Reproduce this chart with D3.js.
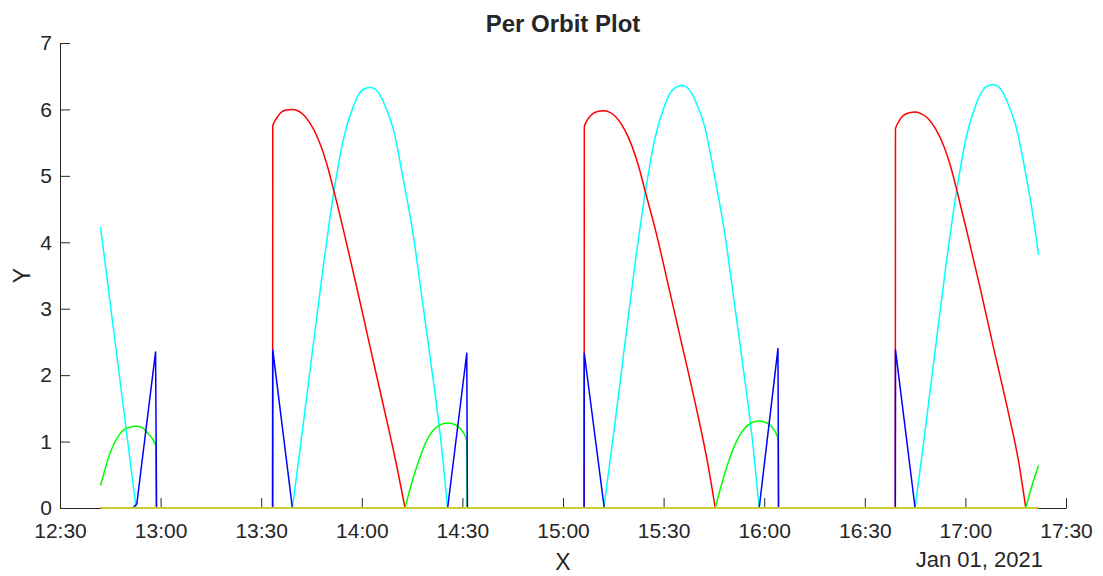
<!DOCTYPE html>
<html>
<head>
<meta charset="utf-8">
<script src="https://cdn.jsdelivr.net/npm/d3@7"></script>
<style>
  body { margin: 0; background: #fff; }
  svg text { font-family: "Liberation Sans", Arial, Helvetica, sans-serif; fill: #262626; }
</style>
</head>
<body>
<svg id="chart" width="1103" height="576"></svg>
<script>
// times are minutes after 12:00 on Jan 01, 2021
const red = [
  [42.1, 0], [93.4, 0], [93.45, 5.75], [94.5, 5.86], [95.6, 5.94], [97.4, 5.99], [99.1, 6.00], [100.9, 5.98],
  [102.6, 5.92], [104.6, 5.79], [106.6, 5.60], [109.5, 5.19], [111.7, 4.77], [114.5, 4.19], [118.5, 3.32],
  [122.4, 2.44], [126.4, 1.55], [130.4, 0.64], [132.9, 0],
  [186.3, 0], [186.35, 5.74], [187.4, 5.85], [188.5, 5.92], [190.3, 5.97], [192.0, 5.98], [193.8, 5.96],
  [195.5, 5.90], [197.5, 5.77], [199.5, 5.58], [202.4, 5.17], [204.6, 4.75], [207.6, 4.18], [211.6, 3.31],
  [215.6, 2.43], [219.6, 1.54], [223.2, 0.66], [225.4, 0],
  [279.1, 0], [279.15, 5.71], [280.2, 5.82], [281.3, 5.90], [283.3, 5.95], [285.2, 5.96], [287.0, 5.93],
  [288.7, 5.87], [290.7, 5.74], [292.7, 5.55], [295.6, 5.14], [297.7, 4.73], [300.5, 4.15], [304.5, 3.29],
  [308.4, 2.41], [312.4, 1.53], [316.0, 0.66], [318.0, 0], [321.8, 0]
];

const cyan = [
  [42.1, 4.23], [52.7, 0], [99.3, 0], [102.6, 1.28], [105.5, 2.45], [108.5, 3.63], [111.7, 4.77], [114.5, 5.55],
  [117.5, 6.05], [119.0, 6.22], [120.4, 6.30], [122.4, 6.33], [123.9, 6.31], [125.4, 6.22], [127.4, 6.00],
  [129.4, 5.70], [132.4, 4.94], [135.4, 4.09], [138.3, 3.03], [141.3, 1.93], [143.8, 0.92], [145.6, 0],
  [192.2, 0], [195.5, 1.28], [198.4, 2.45], [201.4, 3.64], [204.6, 4.77], [207.4, 5.56], [210.4, 6.07],
  [211.9, 6.24], [213.3, 6.32], [215.3, 6.36], [216.8, 6.34], [218.3, 6.25], [220.3, 6.03], [222.3, 5.73],
  [225.3, 4.97], [228.3, 4.11], [231.2, 3.05], [234.2, 1.94], [236.7, 0.93], [238.5, 0],
  [285.0, 0], [288.3, 1.29], [291.2, 2.46], [294.2, 3.65], [297.4, 4.78], [300.2, 5.57], [303.2, 6.08],
  [304.7, 6.25], [306.1, 6.34], [308.1, 6.37], [309.6, 6.35], [311.1, 6.26], [313.1, 6.04], [315.1, 5.74],
  [318.1, 5.00], [320.1, 4.42], [321.8, 3.81]
];

const green = [
  [42.1, 0.34], [44.9, 0.82], [47.9, 1.12], [50.3, 1.21], [52.9, 1.23], [54.8, 1.20], [56.3, 1.12],
  [58.5, 0.95], [58.7, 0],
  [132.9, 0], [135.0, 0.40], [137.4, 0.77], [139.1, 0.99], [141.3, 1.17], [143.3, 1.25], [145.5, 1.28],
  [147.5, 1.26], [149.3, 1.20], [151.3, 1.02], [151.4, 0],
  [225.4, 0], [227.6, 0.41], [230.0, 0.79], [231.8, 1.01], [234.0, 1.19], [236.1, 1.28], [238.3, 1.31],
  [240.3, 1.29], [242.1, 1.23], [244.1, 1.05], [244.2, 0],
  [318.0, 0], [320.0, 0.36], [321.8, 0.64]
];

const blue = [
  [42.1, 0], [51.7, 0], [52.9, 0.06], [58.5, 2.35], [58.8, 0],
  [93.4, 0], [93.45, 2.38], [99.3, 0],
  [145.6, 0], [151.3, 2.33], [151.5, 0],
  [186.3, 0], [186.35, 2.33], [192.3, 0],
  [238.5, 0], [244.1, 2.40], [244.3, 0],
  [279.1, 0], [279.15, 2.38], [285.0, 0], [321.8, 0]
];

const yellow = [[42.1, 0], [321.8, 0]];

const xTickLabels = ['12:30', '13:00', '13:30', '14:00', '14:30', '15:00', '15:30', '16:00', '16:30', '17:00', '17:30'];
const yTicks = [0, 1, 2, 3, 4, 5, 6, 7];
const dayLabel = 'Jan 01, 2021';

const base = new Date(2021, 0, 1, 12, 0);
const toDate = m => new Date(base.getTime() + m * 60000);
const parseTick = d3.timeParse('%Y-%m-%d %H:%M');
const xTicks = xTickLabels.map(s => parseTick('2021-01-01 ' + s));

const plotLeft = 60, plotRight = 1066, plotTop = 43, plotBottom = 508;
const fontFamily = '"Liberation Sans", Arial, Helvetica, sans-serif';

const svg = d3.select('#chart');

const x = d3.scaleTime()
  .domain([xTicks[0], xTicks[xTicks.length - 1]])
  .range([plotLeft, plotRight]);

const y = d3.scaleLinear()
  .domain([0, 7])
  .range([plotBottom, plotTop]);

// axes, ticks pointing inwards like matlab
const xAxis = svg.append('g')
  .attr('transform', 'translate(0,' + plotBottom + ')')
  .call(d3.axisBottom(x)
    .tickValues(xTicks)
    .tickFormat(d3.timeFormat('%H:%M'))
    .tickSizeInner(-10)
    .tickSizeOuter(0)
    .tickPadding(15));

const yAxis = svg.append('g')
  .attr('transform', 'translate(' + plotLeft + ',0)')
  .call(d3.axisLeft(y)
    .tickValues(yTicks)
    .tickFormat(d3.format('d'))
    .tickSizeInner(-10)
    .tickSizeOuter(0)
    .tickPadding(8));

[xAxis, yAxis].forEach(g => {
  g.attr('font-family', fontFamily).attr('font-size', 21);
  g.selectAll('path, line').attr('stroke', '#262626');
  g.selectAll('text').attr('fill', '#262626');
});

// break a series at its zero points so the arcs stay smooth but corners stay sharp
function splitAtZeros(data) {
  const out = [];
  let cur = [data[0]];
  for (let i = 1; i < data.length; i++) {
    cur.push(data[i]);
    if (data[i][1] === 0 && i < data.length - 1) {
      out.push(cur);
      cur = [data[i]];
    }
  }
  out.push(cur);
  return out;
}

const smoothLine = d3.line()
  .curve(d3.curveMonotoneX)
  .x(d => x(toDate(d[0])))
  .y(d => y(d[1]));

const straightLine = d3.line()
  .x(d => x(toDate(d[0])))
  .y(d => y(d[1]));

const series = [
  { data: cyan, color: '#00ffff', smooth: true },
  { data: red, color: '#ff0000', smooth: true },
  { data: green, color: '#00ff00', smooth: true },
  { data: blue, color: '#0000ff', smooth: false },
  { data: yellow, color: '#cccc33', smooth: false, width: 2 }
];

svg.append('g')
  .selectAll('path')
  .data(series)
  .enter()
  .append('path')
  .attr('d', d => d.smooth
    ? splitAtZeros(d.data).map(p => smoothLine(p)).join('')
    : straightLine(d.data))
  .attr('fill', 'none')
  .attr('stroke', d => d.color)
  .attr('stroke-width', d => d.width || 1.5)
  .attr('stroke-linejoin', 'round');

// title and labels
svg.append('text')
  .attr('x', (plotLeft + plotRight) / 2)
  .attr('y', 32)
  .attr('text-anchor', 'middle')
  .style('font-weight', 'bold')
  .style('font-size', '24px')
  .text('Per Orbit Plot');

svg.append('text')
  .attr('x', (plotLeft + plotRight) / 2)
  .attr('y', 570)
  .attr('text-anchor', 'middle')
  .style('font-size', '23px')
  .text('X');

svg.append('text')
  .attr('transform', 'translate(30,' + (plotTop + plotBottom) / 2 + ') rotate(-90)')
  .attr('text-anchor', 'middle')
  .style('font-size', '23px')
  .text('Y');

svg.append('text')
  .attr('x', 1043)
  .attr('y', 567)
  .attr('text-anchor', 'end')
  .style('font-size', '22px')
  .text(dayLabel);
</script>
</body>
</html>
